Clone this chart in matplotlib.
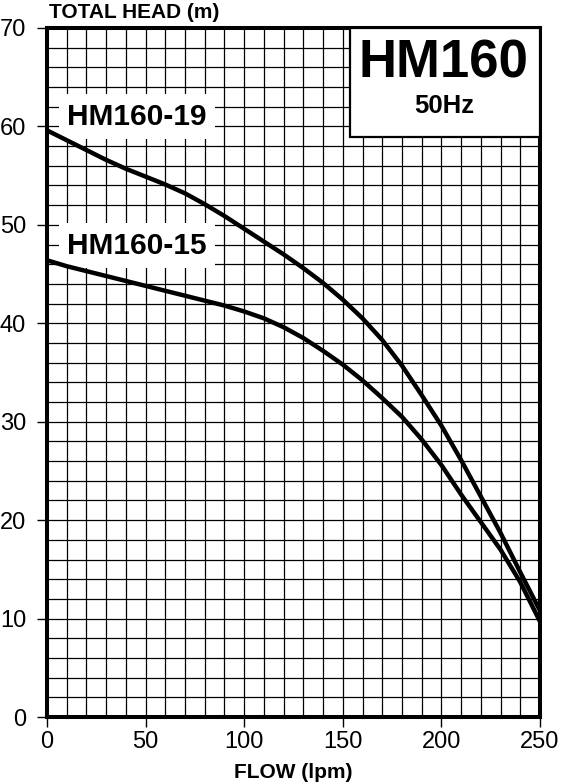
import numpy as np
import matplotlib.pyplot as plt
from matplotlib.patches import Rectangle

plt.rcParams['font.family'] = ['Liberation Sans', 'DejaVu Sans']

# flow (lpm) and total head (m)
flow = [0, 10, 20, 30, 40, 50, 60, 70, 80, 90, 100, 110, 120, 130, 140,
        150, 160, 170, 180, 190, 200, 210, 220, 230, 240, 250]
head_19 = [59.6, 58.6, 57.6, 56.6, 55.7, 54.9, 54.1, 53.2, 52.1, 50.9, 49.6,
           48.3, 47.0, 45.6, 44.1, 42.4, 40.5, 38.3, 35.7, 32.7, 29.6, 26.1,
           22.4, 18.7, 14.7, 10.8]
head_15 = [46.4, 45.8, 45.3, 44.8, 44.3, 43.8, 43.3, 42.8, 42.3, 41.8, 41.2,
           40.5, 39.6, 38.5, 37.2, 35.8, 34.2, 32.4, 30.5, 28.2, 25.6, 22.6,
           19.8, 17.0, 13.7, 9.7]

x_ticks = [0, 50, 100, 150, 200, 250]
y_ticks = [0, 10, 20, 30, 40, 50, 60, 70]

fig = plt.figure(figsize=(5.61, 7.84), dpi=100)
ax = fig.add_axes([47/561, 67/784, 493/561, 689/784])

ax.set_xlim(0, 250)
ax.set_ylim(0, 70)
ax.set_xticks(x_ticks)
ax.set_yticks(y_ticks)
ax.set_xticks(np.arange(0, 251, 10), minor=True)
ax.set_yticks(np.arange(0, 71, 2), minor=True)
ax.grid(which='both', color='black', lw=0.9)
ax.set_axisbelow(True)
ax.tick_params(which='major', direction='out', length=7, width=1, labelsize=17)
ax.tick_params(axis='y', which='major', pad=8)
ax.tick_params(axis='x', which='major', pad=3)
ax.tick_params(which='minor', length=0)
for s in ax.spines.values():
    s.set_linewidth(2.9)

ax.plot(flow, head_19, color='black', lw=3.2, solid_joinstyle='round', zorder=6)
ax.plot(flow, head_15, color='black', lw=3.2, solid_joinstyle='round', zorder=6)

box = dict(facecolor='white', edgecolor='none', pad=6)
ax.text(45.6, 61.0, 'HM160-19', fontsize=21.5, fontweight='bold',
        ha='center', va='center', bbox=box, zorder=4)
ax.text(45.6, 47.9, 'HM160-15', fontsize=21.5, fontweight='bold',
        ha='center', va='center', bbox=box, zorder=4)

ax.add_patch(Rectangle((0.615, 0.842), 0.385, 0.158, transform=ax.transAxes,
                       facecolor='white', edgecolor='black', lw=1.6, zorder=4))
ax.text(0.805, 0.949, 'HM160', transform=ax.transAxes, fontsize=38,
        fontweight='bold', ha='center', va='center', zorder=5)
ax.text(0.805, 0.887, '50Hz', transform=ax.transAxes, fontsize=18.5,
        fontweight='bold', ha='center', va='center', zorder=5)

fig.text(49/561, 1 - 18/784, 'TOTAL HEAD (m)', fontsize=15,
         fontweight='bold', ha='left', va='baseline')
fig.text(293/561, 1 - 772/784, 'FLOW (lpm)', fontsize=15,
         fontweight='bold', ha='center', va='center')

fig.savefig('out.png', dpi=100)
